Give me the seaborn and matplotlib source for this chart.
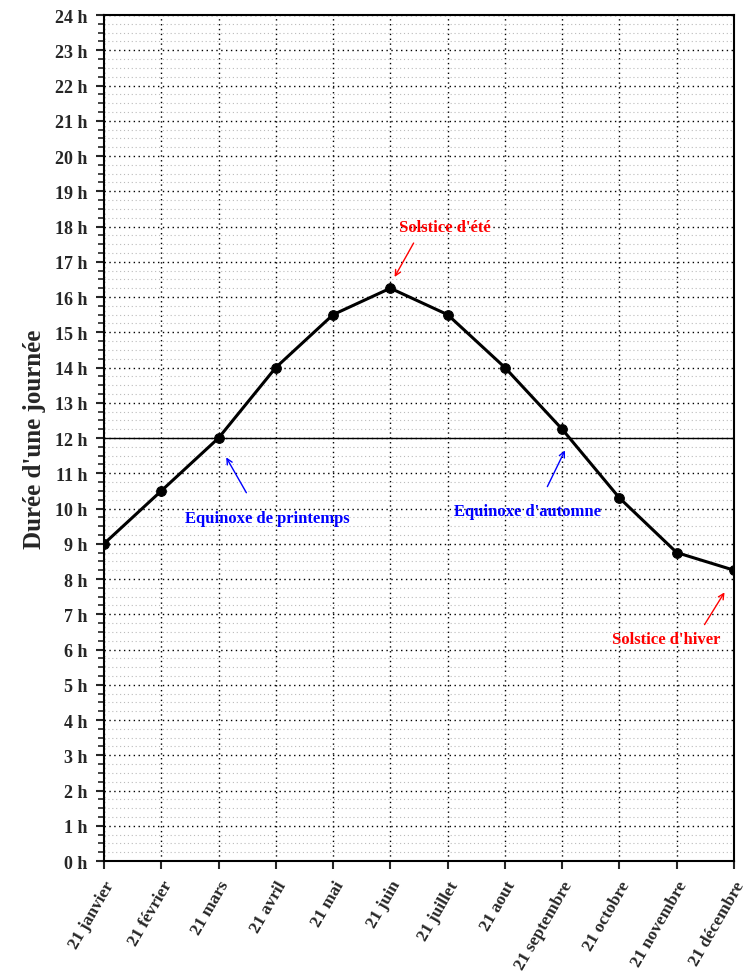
import numpy as np
import pandas as pd
import matplotlib.pyplot as plt
import seaborn as sns
from matplotlib.ticker import MultipleLocator

mois = ["21 janvier", "21 février", "21 mars", "21 avril", "21 mai", "21 juin",
        "21 juillet", "21 aout", "21 septembre", "21 octobre", "21 novembre", "21 décembre"]
duree = [9.0, 10.5, 12.0, 14.0, 15.5, 16.25, 15.5, 14.0, 12.25, 10.3, 8.75, 8.25]
heures = [f"{h} h" for h in range(0, 25)]

df = pd.DataFrame({"idx": range(len(mois)), "duree": duree})

sns.set_style("white")
plt.rcParams['font.family'] = ['Liberation Serif', 'DejaVu Serif']

fig = plt.figure(figsize=(7.46, 9.78), dpi=100)
ax = fig.add_axes([0.1394, 0.1186, 0.8445, 0.865])

sns.lineplot(data=df, x="idx", y="duree", ax=ax, color="black", linewidth=2.2,
             marker="o", markersize=7, markeredgecolor="black", zorder=5)

ax.axhline(12, color="black", linewidth=1, zorder=4)

ax.set_xlim(0, len(mois) - 1)
ax.set_ylim(0, 24)
ax.set_xticks(range(len(mois)))
ax.set_xticklabels(mois, rotation=60, ha="right", rotation_mode="anchor",
                   fontsize=12.5, fontweight="bold")
ax.set_yticks(range(0, 25))
ax.set_yticklabels(heures, fontsize=13, fontweight="bold")
ax.yaxis.set_minor_locator(MultipleLocator(0.25))
ax.tick_params(axis="both", which="major", direction="out", length=6, width=1.5,
               left=True, bottom=True, pad=6)
ax.tick_params(axis="y", which="minor", direction="out", length=4, width=1.2, left=True)

ax.grid(which="major", axis="both", color="black", linestyle=(0, (1, 2.5)), linewidth=1)
ax.grid(which="minor", axis="y", color="#bbbbbb", linestyle=(0, (1, 2.5)), linewidth=0.8)
ax.set_axisbelow(True)
for s in ax.spines.values():
    s.set_color("black")
    s.set_linewidth(1.5)

ax.set_xlabel("")
ax.set_ylabel("Durée d'une journée", fontsize=18, fontweight="bold", labelpad=6)

notes = [
    ("Solstice d'été", "red", (5.95, 17.98), (5.43, 17.6), (5.05, 16.5)),
    ("Equinoxe de printemps", "blue", (2.85, 9.73), (2.51, 10.38), (2.11, 11.52)),
    ("Equinoxe d'automne", "blue", (7.39, 9.93), (7.72, 10.55), (8.07, 11.72)),
    ("Solstice d'hiver", "red", (9.81, 6.3), (10.46, 6.64), (10.86, 7.69)),
]
for txt, col, pos, tail, head in notes:
    ax.text(pos[0], pos[1], txt, color=col, fontsize=12, fontweight="bold",
            ha="center", va="center", zorder=6)
    ax.annotate("", xy=head, xytext=tail,
                arrowprops=dict(arrowstyle="->", color=col, lw=1), zorder=6)

fig.savefig("out.png", dpi=100)
